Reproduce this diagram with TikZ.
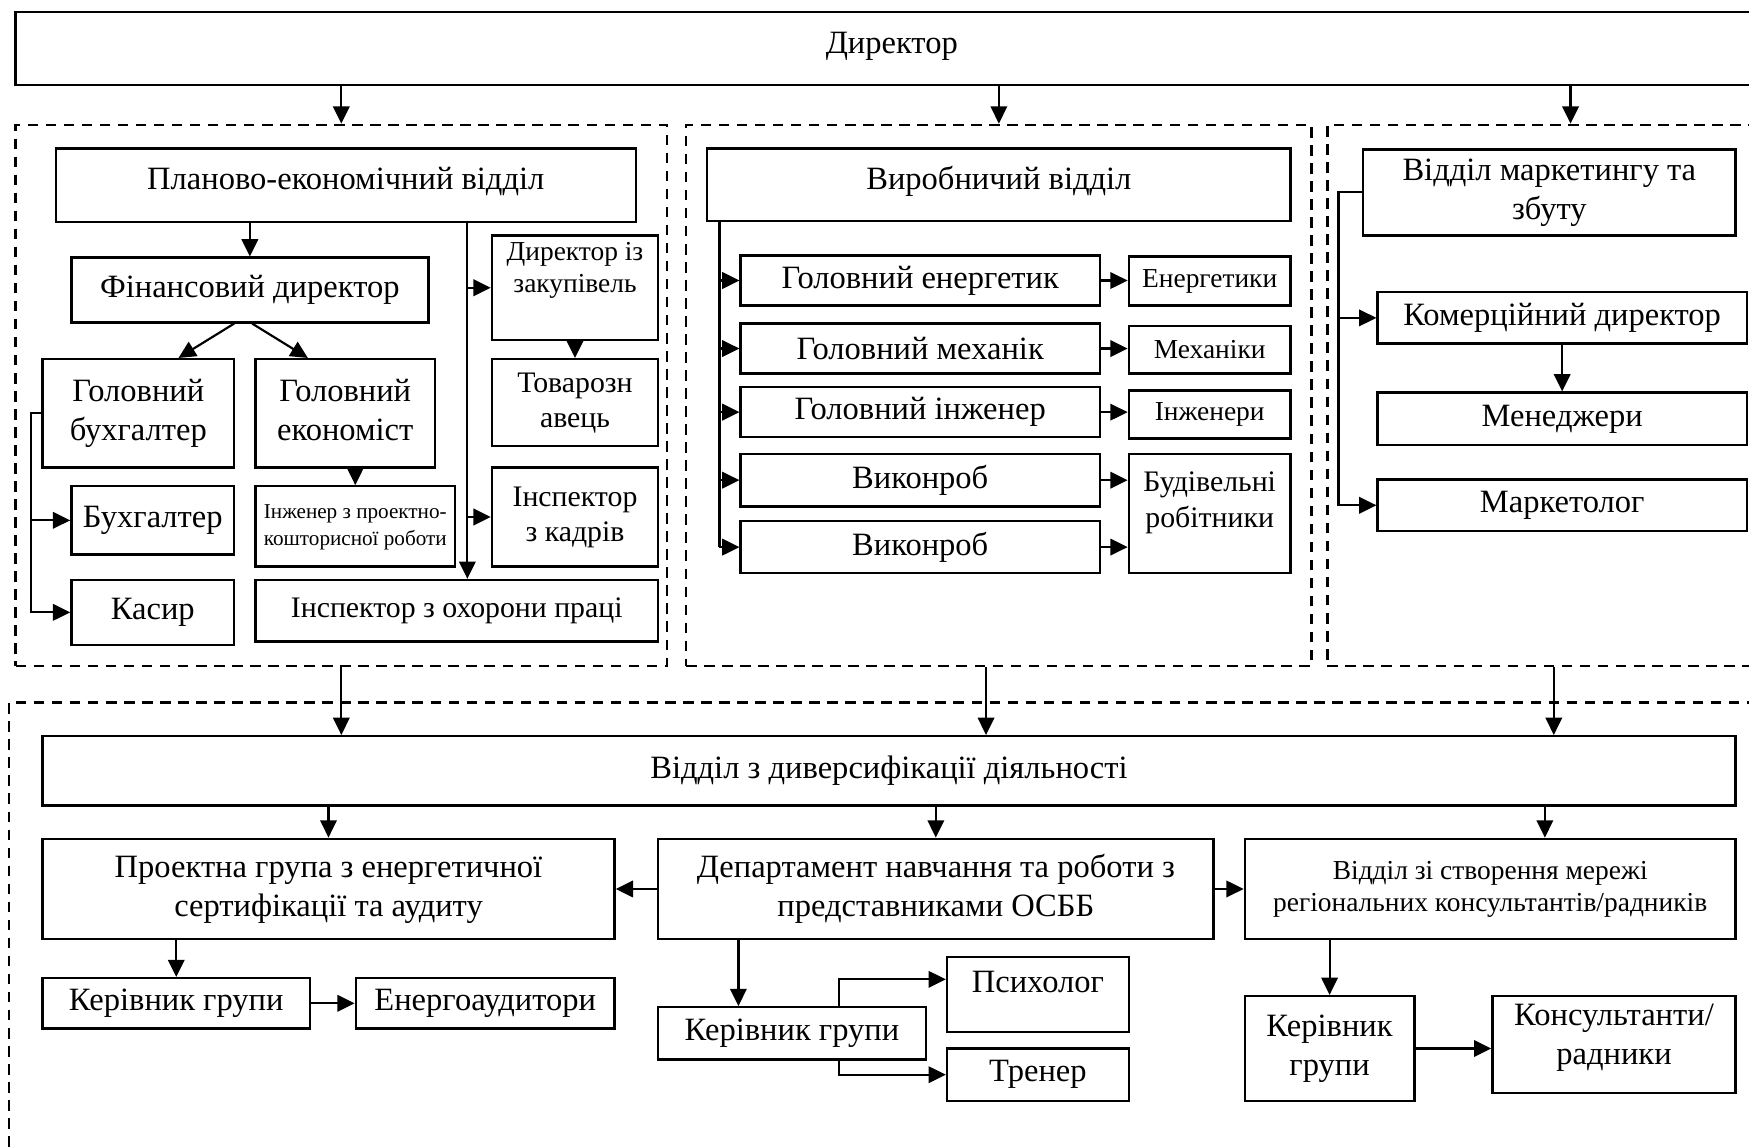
\documentclass[tikz,border=0pt]{standalone}
\usepackage{fontspec}
\setmainfont{Liberation Serif}
\usetikzlibrary{arrows.meta}
\newcommand{\two}[2]{\begin{tabular}{@{}c@{}}#1\\#2\end{tabular}}
\newcommand{\lift}[2]{\raisebox{#1}[\height][\depth]{#2}}
\newcommand{\bx}[7][]{\node[box,minimum width={(#5-#3)*0.1mm},minimum height={(#6-#4)*0.1mm},#1] (#2) at ({(#3+#5)/2},{(#4+#6)/2}) {#7};}
\tikzset{
  box/.style={draw,line width=0.6pt,inner sep=0pt,font=\fontsize{8.3}{10}\selectfont},
  sect/.style={line width=0.65pt,dash pattern=on 2.7pt off 1.9pt},
  arr/.style={line width=0.55pt,-{Triangle[length=4.4pt,width=4.2pt]}},
  midtext/.style={font=\fontsize{7.6}{9}\selectfont},
  smalltext/.style={font=\fontsize{7}{8.2}\selectfont},
  tinytext/.style={font=\fontsize{5.4}{6.8}\selectfont},
}

\begin{document}
\begin{tikzpicture}[x=0.1mm,y=-0.1mm]
\useasboundingbox (0,0) rectangle (1568,1028);
\clip (0,0) rectangle (1568,1028);

\bx[sect]{secA}{14}{112}{598}{597}{}
\bx[sect]{secB}{615}{112}{1176}{597}{}
\bx[sect]{secC}{1190}{112}{1626}{597}{}
\bx[sect]{secD}{8}{630}{1640}{1100}{}

\bx{dir}{14}{11}{1585}{76}{\lift{0.2mm}{Директор}}

\bx{plan}{50}{133}{570}{199}{\lift{0.3mm}{Планово-економічний відділ}}
\bx{fin}{64}{231}{384}{289}{Фінансовий директор}
\bx{gbuh}{38}{322}{210}{419}{\two{Головний}{бухгалтер}}
\bx{gecon}{229}{322}{390}{419}{\two{Головний}{економіст}}
\bx{buh}{64}{436}{210}{497}{Бухгалтер}
\bx{kasyr}{64}{520}{210}{578}{Касир}
\bx[tinytext]{inzh}{229}{436}{408}{508}{\two{Інженер з проектно-}{кошторисної роботи}}
\bx[midtext]{ohor}{229}{520}{590}{575}{Інспектор з охорони праці}
\bx[smalltext]{zakup}{441}{211}{590}{305}{\lift{1.6mm}{\two{Директор із}{закупівель}}}
\bx[midtext]{tovar}{441}{322}{590}{400}{\two{Товарозн}{авець}}
\bx[midtext]{kadry}{441}{419}{590}{508}{\two{Інспектор}{з кадрів}}

\bx{vyrob}{634}{133}{1157}{198}{\lift{0.3mm}{Виробничий відділ}}
\bx{gen}{664}{229}{986}{274}{Головний енергетик}
\bx{gmech}{664}{290}{986}{335}{Головний механік}
\bx{ginzh}{664}{347}{986}{392}{Головний інженер}
\bx{vyk1}{664}{407}{986}{454}{Виконроб}
\bx{vyk2}{664}{467}{986}{514}{Виконроб}
\bx[smalltext]{energ}{1012}{230}{1157}{274}{Енергетики}
\bx[smalltext]{mech}{1012}{292}{1157}{335}{Механіки}
\bx[smalltext]{inzhs}{1012}{350}{1157}{393}{Інженери}
\bx[midtext]{bud}{1012}{407}{1157}{514}{\lift{1mm}{\two{Будівельні}{робітники}}}

\bx{mark}{1222}{134}{1556}{211}{\two{Відділ маркетингу та}{збуту}}
\bx{kom}{1235}{262}{1566}{308}{Комерційний директор}
\bx{men}{1235}{352}{1566}{399}{Менеджери}
\bx{mrk}{1235}{430}{1566}{476}{Маркетолог}

\bx{div}{38}{660}{1556}{722}{Відділ з диверсифікації діяльності}
\bx{proj}{38}{752}{551}{842}{\two{Проектна група з енергетичної}{сертифікації та аудиту}}
\bx{dep}{590}{752}{1088}{842}{\two{Департамент навчання та роботи з}{представниками ОСББ}}
\bx[smalltext]{mer}{1116}{752}{1556}{842}{\two{Відділ зі створення мережі}{регіональних консультантів/радників}}
\bx{kg1}{38}{877}{278}{922}{Керівник групи}
\bx{enaud}{319}{877}{551}{922}{Енергоаудитори}
\bx{kg2}{590}{903}{830}{950}{Керівник групи}
\bx{psych}{849}{858}{1012}{925}{\lift{1.1mm}{Психолог}}
\bx{trener}{849}{940}{1012}{987}{Тренер}
\bx{kg3}{1116}{893}{1268}{987}{\two{Керівник}{групи}}
\bx{kons}{1338}{893}{1556}{980}{\lift{0.7mm}{\two{Консультанти/}{радники}}}

\draw[arr] (dir.south -| secA.north) -- (secA.north);
\draw[arr] (dir.south -| secB.north) -- (secB.north);
\draw[arr] (dir.south -| secC.north) -- (secC.north);

\coordinate (busA) at (28,0);
\coordinate (busP) at (419,0);
\draw[arr] (fin.north |- plan.south) -- (fin.north);
\draw[arr] ([xshift=-1.4mm]fin.south) -- ([xshift=3.6mm]gbuh.north);
\draw[arr] ([xshift=0.2mm]fin.south) -- ([xshift=-3.35mm]gecon.north);
\draw[arr] (gbuh.west) -| (busA |- kasyr.west) -- (kasyr.west);
\draw[arr] (busA |- buh.west) -- (buh.west);
\draw[arr] (inzh.north |- gecon.south) -- (inzh.north);
\draw[arr] (busP |- plan.south) -- (busP |- ohor.north);
\draw[arr] (busP |- zakup.west) -- (zakup.west);
\draw[arr] (busP |- kadry.west) -- (kadry.west);
\draw[arr] (tovar.north |- zakup.south) -- (tovar.north);

\coordinate (busV) at (645,0);
\draw[line width=0.55pt] (busV |- vyrob.south) -- (busV |- vyk2.west);
\foreach \n in {gen,gmech,ginzh,vyk1,vyk2}
  \draw[arr] (busV |- \n.west) -- (\n.west);
\draw[arr] (gen.east) -- (gen.east -| energ.west);
\draw[arr] (gmech.east) -- (gmech.east -| mech.west);
\draw[arr] (ginzh.east) -- (ginzh.east -| inzhs.west);
\draw[arr] (vyk1.east) -- (vyk1.east -| bud.west);
\draw[arr] (vyk2.east) -- (vyk2.east -| bud.west);

\coordinate (busM) at (1200,0);
\draw[arr] (mark.west) -| (busM |- mrk.west) -- (mrk.west);
\draw[arr] (busM |- kom.west) -- (kom.west);
\draw[arr] (men.north |- kom.south) -- (men.north);

\coordinate (ob) at ([xshift=-1.15mm]secB.south);
\coordinate (oc) at ([xshift=-1.5mm]secC.south);
\draw[arr] (secA.south) -- (secA.south |- div.north);
\draw[arr] (ob) -- (ob |- div.north);
\draw[arr] (oc) -- (oc |- div.north);

\coordinate (om) at ([xshift=4.9mm]mer.north);
\coordinate (od) at ([xshift=-4.8mm]kg2.north);
\coordinate (ok) at ([xshift=4.2mm]kg2.north);
\draw[arr] (proj.north |- div.south) -- (proj.north);
\draw[arr] (dep.north |- div.south) -- (dep.north);
\draw[arr] (om |- div.south) -- (om);
\draw[arr] (dep.west) -- (proj.east);
\draw[arr] (dep.east) -- (mer.west);
\draw[arr] (kg1.north |- proj.south) -- (kg1.north);
\draw[arr] (kg1.east) -- (enaud.west);
\draw[arr] (od |- dep.south) -- (od);
\draw[arr] (ok) |- ([yshift=1.35mm]psych.west);
\draw[arr] (ok |- kg2.south) |- (trener.west);
\draw[arr] (kg3.north |- mer.south) -- (kg3.north);
\draw[arr] (kg3.east) -- (kg3.east -| kons.west);
\end{tikzpicture}
\end{document}
